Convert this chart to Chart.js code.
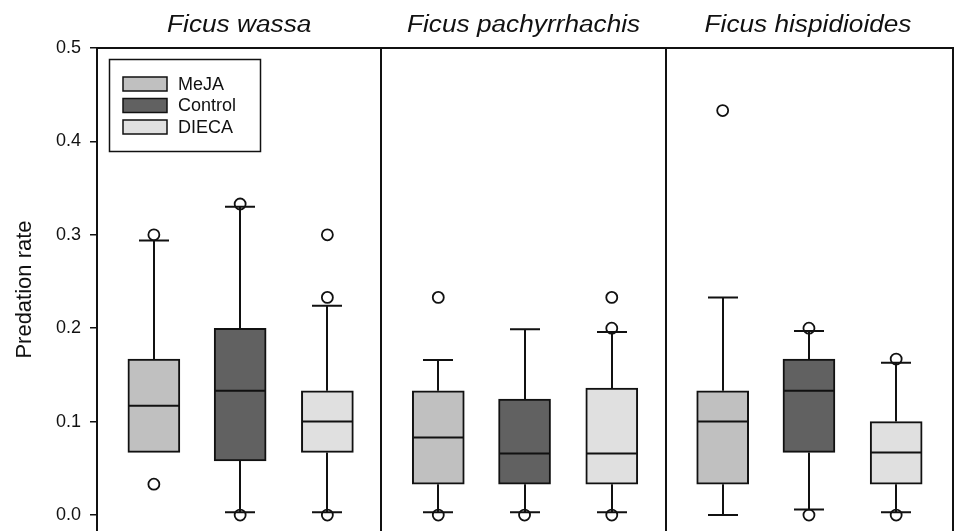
<!DOCTYPE html>
<html>
<head>
<meta charset="utf-8">
<script src="https://cdn.jsdelivr.net/npm/chart.js@4.4.0/dist/chart.umd.min.js"></script>
<style>
  html, body { margin: 0; padding: 0; background: #fff; overflow: hidden; }
  #wrap { width: 955px; height: 531px; }
</style>
</head>
<body>
<div id="wrap"><canvas id="chart"></canvas></div>
<script>
// species panels and treatments
const groups = ['Ficus wassa', 'Ficus pachyrrhachis', 'Ficus hispidioides'];
const treatments = ['MeJA', 'Control', 'DIECA'];
const yTicks = [0.0, 0.1, 0.2, 0.3, 0.4, 0.5];

// one row per treatment (MeJA, Control, DIECA), one value per species
const q1 = [
  [0.067, 0.033, 0.033],
  [0.058, 0.033, 0.067],
  [0.067, 0.033, 0.033]
];
const median = [
  [0.117, 0.083, 0.100],
  [0.133, 0.066, 0.133],
  [0.100, 0.066, 0.067]
];
const q3 = [
  [0.167, 0.133, 0.133],
  [0.200, 0.124, 0.167],
  [0.133, 0.136, 0.100]
];
const whiskerLow = [
  [0.067, 0.003, 0.000],
  [0.003, 0.003, 0.006],
  [0.003, 0.003, 0.003]
];
const whiskerHigh = [
  [0.294, 0.166, 0.233],
  [0.330, 0.199, 0.197],
  [0.224, 0.196, 0.163]
];
const outliers = [
  [[0.033, 0.300], [0.000, 0.233], [0.433]],
  [[0.000, 0.333], [0.000], [0.000, 0.200]],
  [[0.000, 0.233, 0.300], [0.000, 0.200, 0.233], [0.000, 0.167]]
];

const fills = ['#c0c0c0', '#616161', '#e0e0e0'];
const ink = '#111';
const slot = [0.6, 1.51, 2.43];   // box position inside a panel of width 3
const xPos = (gi, ti) => gi * 3 + slot[ti];

const boxSets = treatments.map((t, ti) => ({
  type: 'bar',
  label: t,
  data: groups.map((g, gi) => ({ x: xPos(gi, ti), y: [q1[ti][gi], q3[ti][gi]] })),
  backgroundColor: fills[ti],
  borderColor: ink,
  borderWidth: 2,
  borderSkipped: false,
  barThickness: 52,
  grouped: false,
  order: 2
}));

const outlierPts = [];
treatments.forEach((t, ti) => groups.forEach((g, gi) => {
  outliers[ti][gi].forEach(v => outlierPts.push({ x: xPos(gi, ti), y: v }));
}));

const frameAndBoxes = {
  id: 'frameAndBoxes',
  afterDatasetsDraw(chart) {
    const { ctx, chartArea: a, scales: { x, y } } = chart;
    ctx.save();
    ctx.strokeStyle = ink;
    ctx.lineWidth = 2;
    // whiskers and medians
    treatments.forEach((t, ti) => groups.forEach((g, gi) => {
      const cx = Math.round(x.getPixelForValue(xPos(gi, ti)));
      const yq1 = y.getPixelForValue(q1[ti][gi]);
      const yq3 = y.getPixelForValue(q3[ti][gi]);
      const ym = y.getPixelForValue(median[ti][gi]);
      const yl = y.getPixelForValue(whiskerLow[ti][gi]);
      const yh = y.getPixelForValue(whiskerHigh[ti][gi]);
      ctx.beginPath();
      ctx.moveTo(cx - 25, ym); ctx.lineTo(cx + 25, ym);
      if (whiskerHigh[ti][gi] > q3[ti][gi]) {
        ctx.moveTo(cx, yq3); ctx.lineTo(cx, yh);
        ctx.moveTo(cx - 15, yh); ctx.lineTo(cx + 15, yh);
      }
      if (whiskerLow[ti][gi] < q1[ti][gi]) {
        ctx.moveTo(cx, yq1); ctx.lineTo(cx, yl);
        ctx.moveTo(cx - 15, yl); ctx.lineTo(cx + 15, yl);
      }
      ctx.stroke();
    }));
    // panel frame
    ctx.beginPath();
    ctx.moveTo(a.left, a.top); ctx.lineTo(a.right, a.top);
    [3, 6].forEach(v => {
      const px = Math.round(x.getPixelForValue(v));
      ctx.moveTo(px, a.top); ctx.lineTo(px, a.bottom);
    });
    ctx.moveTo(a.right - 1, a.top); ctx.lineTo(a.right - 1, a.bottom);
    ctx.stroke();
    // species titles
    ctx.fillStyle = ink;
    ctx.textAlign = 'center';
    ctx.textBaseline = 'alphabetic';
    ctx.font = 'italic 23px "Liberation Sans", Arial, sans-serif';
    groups.forEach((g, gi) => {
      ctx.save();
      ctx.translate(x.getPixelForValue(gi * 3 + 1.5), 32);
      ctx.scale(1.14, 1);
      ctx.fillText(g, 0, 0);
      ctx.restore();
    });
    // legend
    const lx = a.left + 12, ly = a.top + 11;
    ctx.lineWidth = 1.5;
    ctx.strokeRect(lx + 0.5, ly + 0.5, 151, 92);
    ctx.font = '18px "Liberation Sans", Arial, sans-serif';
    ctx.textAlign = 'left';
    ctx.textBaseline = 'middle';
    treatments.forEach((t, ti) => {
      const sy = ly + 18 + ti * 21.5;
      ctx.fillStyle = fills[ti];
      ctx.fillRect(lx + 14, sy, 44, 14);
      ctx.strokeRect(lx + 14, sy, 44, 14);
      ctx.fillStyle = ink;
      ctx.fillText(t, lx + 69, sy + 8);
    });
    ctx.restore();
  }
};

new Chart(document.getElementById('chart'), {
  type: 'bar',
  data: {
    datasets: [
      ...boxSets,
      {
        type: 'scatter',
        label: 'outliers',
        data: outlierPts,
        pointStyle: 'circle',
        pointRadius: 5.5,
        pointBorderWidth: 1.8,
        pointBorderColor: ink,
        pointBackgroundColor: 'rgba(255,255,255,0)',
        order: 1
      }
    ]
  },
  options: {
    responsive: true,
    maintainAspectRatio: false,
    animation: false,
    layout: { autoPadding: false, padding: { top: 48, right: 1, bottom: 0, left: 0 } },
    plugins: { legend: { display: false }, tooltip: { enabled: false } },
    scales: {
      x: { type: 'linear', min: 0, max: 9.04, offset: false, display: false },
      y: {
        min: -0.0171,
        max: 0.5,
        afterFit: s => { s.width = 97; s.paddingTop = 0; s.paddingBottom = 0; },
        afterBuildTicks: s => { s.ticks = yTicks.map(v => ({ value: v })); },
        border: { display: true, color: ink, width: 2 },
        grid: { drawOnChartArea: false, drawTicks: true, tickLength: 7, color: ink, lineWidth: 1.5 },
        ticks: {
          padding: 9,
          color: ink,
          font: { family: '"Liberation Sans", Arial, sans-serif', size: 18 },
          callback: v => v.toFixed(1)
        },
        title: {
          display: true,
          text: 'Predation rate',
          color: ink,
          font: { family: '"Liberation Sans", Arial, sans-serif', size: 22 },
          padding: { top: 12, bottom: 0 }
        }
      }
    }
  },
  plugins: [frameAndBoxes]
});
</script>
</body>
</html>
